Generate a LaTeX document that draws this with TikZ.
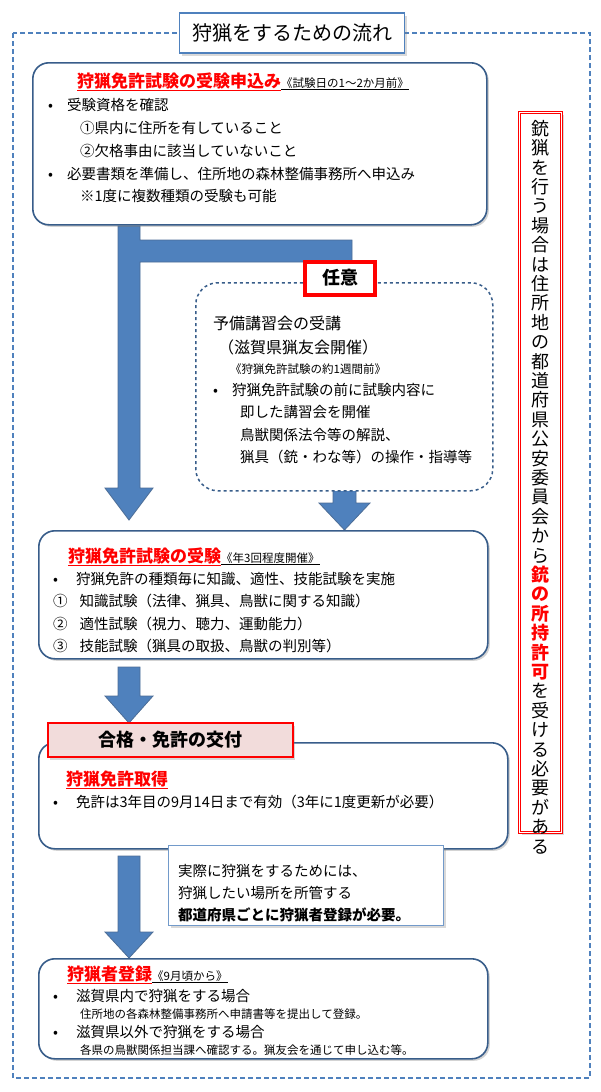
\documentclass[tikz,border=0pt]{standalone}
\usepackage{fontspec}
\setmainfont{Noto Sans CJK JP}
\usetikzlibrary{shadows}
\definecolor{fr}{HTML}{4F81BD}
\definecolor{bd}{HTML}{385D8A}
\definecolor{ar}{HTML}{4F81BD}
\definecolor{pk}{HTML}{F2DCDB}
\newcommand{\red}[1]{\textcolor{red}{\underline{#1}}}
\newcommand{\myvfont}{\fontsize{18}{19.4}\selectfont\lineskiplimit=-20pt\relax\lineskip=0pt\relax}
\begin{document}
\begin{tikzpicture}[x=1pt,y=-1pt,
  box/.style={draw=bd,line width=1.6pt,rounded corners=16pt,fill=white,drop shadow={opacity=0.35,shadow xshift=2pt,shadow yshift=-2pt}},
  arr/.style={fill=ar,draw=bd!90,line width=0.8pt},
  t/.style={anchor=base west,inner sep=0,font=\fontsize{14.5}{16}\selectfont},
  s/.style={anchor=base west,inner sep=0,font=\fontsize{11.5}{13}\selectfont},
  h/.style={anchor=base west,inner sep=0,font=\fontsize{17}{19}\selectfont\bfseries}]
\useasboundingbox (0,0) rectangle (600,1092);
\draw[fr,dashed,line width=1.2pt,dash pattern=on 5pt off 3pt] (13,33) rectangle (590,1078);
\node[draw=fr,line width=1.2pt,fill=white,minimum width=225pt,minimum height=40pt,font=\fontsize{20}{22}\selectfont,drop shadow={opacity=0.3}] (title) at (292,33) {狩猟をするための流れ};
% arrows
\draw[arr] (118,226) -- (140,226) -- (140,240) -- (352,240) -- (352,265) -- (362,265) -- (338,298) -- (314,265) -- (330,265) -- (330,262) -- (140,262) -- (140,488) -- (153,488) -- (129,520) -- (105,488) -- (118,488) -- cycle;
\draw[arr] (333,475) -- (356,475) -- (356,503) -- (370,503) -- (344.5,530) -- (319,503) -- (333,503) -- cycle;
\draw[arr] (118,667) -- (140,667) -- (140,696) -- (153,696) -- (129,723) -- (105,696) -- (118,696) -- cycle;
\draw[arr] (118,856) -- (140,856) -- (140,932) -- (153,932) -- (129,958) -- (105,932) -- (118,932) -- cycle;
% box1
\node[box,minimum width=454pt,minimum height=162pt,anchor=north west] (b1) at (32,62) {};
\node[h] (b1t) at (77,87) {\red{狩猟免許試験の受験申込み}\textcolor{black}{\fontsize{11.5}{12}\selectfont\mdseries\underline{《試験日の1～2か月前》}}};
\node[t] (b1a) at (48,110) {•\hspace{14pt}受験資格を確認};
\node[t] (b1b) at (80,133) {①県内に住所を有していること};
\node[t] (b1c) at (80,156) {②欠格事由に該当していないこと};
\node[t] (b1d) at (48,179) {•\hspace{14pt}必要書類を準備し、住所地の森林整備事務所へ申込み};
\node[t] (b1e) at (80,201) {※1度に複数種類の受験も可能};
% dashed box
\node[draw=bd,line width=1.5pt,dashed,rounded corners=22pt,fill=white,minimum width=297pt,minimum height=208pt,anchor=north west] (b2) at (195,282) {};
\node[draw=red,line width=4pt,fill=white,minimum width=70pt,minimum height=33pt,font=\fontsize{18}{20}\selectfont\bfseries] (opt) at (340,278) {任意};
\node[t,font=\fontsize{16}{18}\selectfont] (b2a) at (213,329) {予備講習会の受講};
\node[t,font=\fontsize{16}{18}\selectfont] (b2b) at (218,353) {（滋賀県猟友会開催）};
\node[s] (b2c) at (230,373) {《狩猟免許試験の約1週間前》};
\node[t] (b2d) at (213,395) {•\hspace{14pt}狩猟免許試験の前に試験内容に};
\node[t] (b2e) at (240,417) {即した講習会を開催};
\node[t] (b2f) at (240,440) {鳥獣関係法令等の解説、};
\node[t] (b2g) at (240,462) {猟具（銃・わな等）の操作・指導等};
% box3
\node[box,minimum width=449pt,minimum height=128pt,anchor=north west] (b3) at (38,530) {};
\node[h] (b3t) at (68,562) {\red{狩猟免許試験の受験}\textcolor{black}{\fontsize{11.5}{12}\selectfont\mdseries\underline{《年3回程度開催》}}};
\node[t] (b3a) at (53,584) {•\hspace{18pt}狩猟免許の種類毎に知識、適性、技能試験を実施};
\node[t] (b3b) at (53,606) {①\hspace{12pt}知識試験（法律、猟具、鳥獣に関する知識）};
\node[t] (b3c) at (53,629) {②\hspace{12pt}適性試験（視力、聴力、運動能力）};
\node[t] (b3d) at (53,651) {③\hspace{12pt}技能試験（猟具の取扱、鳥獣の判別等）};
% box4
\node[box,minimum width=469pt,minimum height=106pt,anchor=north west] (b4) at (38,742) {};
\node[draw=red,line width=2pt,fill=pk,minimum width=245pt,minimum height=34pt,font=\fontsize{18}{20}\selectfont\bfseries,drop shadow={opacity=0.3}] (ban) at (170,740) {合格・免許の交付};
\node[h] (b4t) at (66,785) {\red{狩猟免許取得}};
\node[t] (b4a) at (53,807) {•\hspace{18pt}免許は3年目の9月14日まで有効（3年に1度更新が必要）};
% note box
\node[draw=fr!80,line width=1.2pt,fill=white,minimum width=275pt,minimum height=80pt,anchor=north west,drop shadow={opacity=0.3}] (nb) at (168,845) {};
\node[t] (n1) at (178,876) {実際に狩猟をするためには、};
\node[t] (n2) at (178,898) {狩猟したい場所を所管する};
\node[t,font=\fontsize{14.5}{16}\selectfont\bfseries] (n3) at (178,920) {都道府県ごとに狩猟者登録が必要。};
% box5
\node[box,minimum width=449pt,minimum height=100pt,anchor=north west] (b5) at (38,958) {};
\node[h] (b5t) at (67,980) {\red{狩猟者登録}\textcolor{black}{\fontsize{11.5}{12}\selectfont\mdseries\underline{《9月頃から》}}};
\node[t] (b5a) at (53,1001) {•\hspace{18pt}滋賀県内で狩猟をする場合};
\node[s] (b5b) at (80,1018) {住所地の各森林整備事務所へ申請書等を提出して登録。};
\node[t] (b5c) at (53,1037) {•\hspace{18pt}滋賀県以外で狩猟をする場合};
\node[s] (b5d) at (80,1054) {各県の鳥獣関係担当課へ確認する。猟友会を通じて申し込む等。};
% vertical box
\node[draw=red,double=white,double distance=1.2pt,line width=0.8pt,fill=white,minimum width=42pt,minimum height=720pt,anchor=north west,drop shadow={opacity=0.3}] (vb) at (519,112) {};
\node[anchor=north,inner sep=0,align=center,font=\myvfont] (vt) at (540.5,120) {銃\\猟\\を\\行\\う\\場\\合\\は\\住\\所\\地\\の\\都\\道\\府\\県\\公\\安\\委\\員\\会\\か\\ら\\\textcolor{red}{\bfseries 銃}\\\textcolor{red}{\bfseries の}\\\textcolor{red}{\bfseries 所}\\\textcolor{red}{\bfseries 持}\\\textcolor{red}{\bfseries 許}\\\textcolor{red}{\bfseries 可}\\を\\受\\け\\る\\必\\要\\が\\あ\\る};
\end{tikzpicture}
\end{document}
